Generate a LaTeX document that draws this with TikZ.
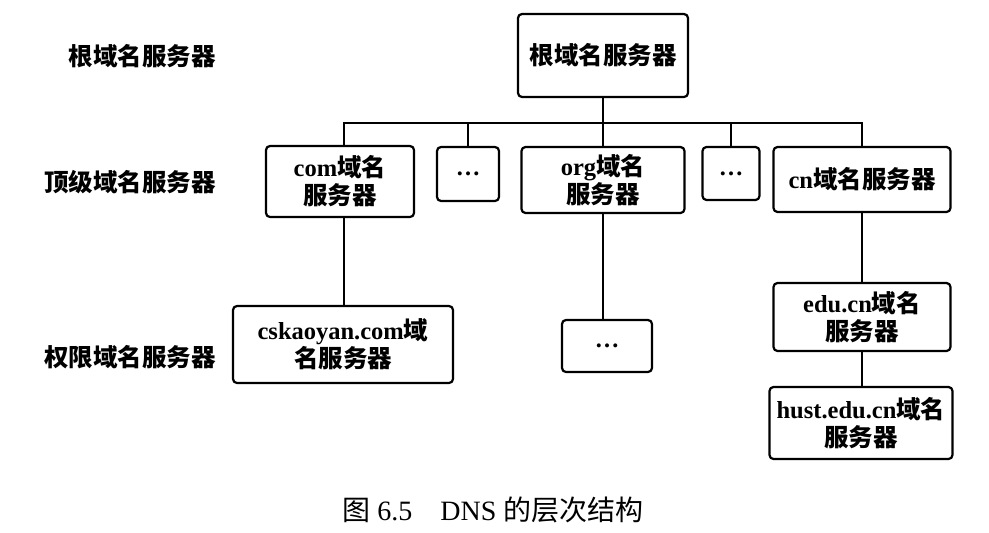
\documentclass[tikz,border=0pt]{standalone}
\usepackage{fontspec}
\setmainfont{Liberation Serif}
\newfontfamily\cjk{Noto Sans CJK SC}
\newcommand\zh[1]{{\cjk #1}}
\begin{document}
\begin{tikzpicture}[x=1pt,y=-1pt,
  srv/.style={draw,line width=2.2pt,rounded corners=4pt,inner sep=0pt,align=center,
    font=\bfseries\fontsize{24.5}{28}\selectfont},
  lvl/.style={anchor=east,inner sep=0pt,font=\bfseries\fontsize{24.5}{28}\selectfont},
  link/.style={line width=1.4pt}]
\useasboundingbox (0,0) rectangle (989,533);
% level labels
\node[lvl] (l1) at (216,56) {\zh{根域名服务器}};
\node[lvl] (l2) at (216,182) {\zh{顶级域名服务器}};
\node[lvl] (l3) at (216,357) {\zh{权限域名服务器}};
% servers
\node[srv,minimum width=170pt,minimum height=83pt] (root) at (603,55.5) {\zh{根域名服务器}};
\node[srv,minimum width=148pt,minimum height=71pt] (com) at (340,181.5) {com\zh{域名}\\\zh{服务器}};
\node[srv,minimum width=62pt,minimum height=54pt] (d1) at (468,174) {…};
\node[srv,minimum width=163pt,minimum height=66pt] (org) at (603,180) {org\zh{域名}\\\zh{服务器}};
\node[srv,minimum width=57pt,minimum height=53pt] (d2) at (731,173.5) {…};
\node[srv,minimum width=177pt,minimum height=65pt] (cn) at (862,179.5) {cn\zh{域名服务器}};
\node[srv,minimum width=220pt,minimum height=77pt] (cska) at (343,344.5) {cskaoyan.com\zh{域}\\\zh{名服务器}};
\node[srv,minimum width=90pt,minimum height=52pt] (d3) at (607,346) {…};
\node[srv,minimum width=177pt,minimum height=68pt] (edu) at (862,317) {edu.cn\zh{域名}\\\zh{服务器}};
\node[srv,minimum width=183pt,minimum height=72pt] (hust) at (861,423) {hust.edu.cn\zh{域名}\\\zh{服务器}};
% connectors
\coordinate (bus) at (603,123);
\draw[link] (root.south) -- (org.north);
\draw[link] ([xshift=4pt]com.north) |- (bus) -| (cn.north);
\draw[link] (d1.north) -- (d1.north|-bus);
\draw[link] (d2.north) -- (d2.north|-bus);
\draw[link] ([xshift=4pt]com.south) -- ([xshift=4pt]com.south|-cska.north);
\draw[link] (org.south) -- (org.south|-d3.north);
\draw[link] (cn.south) -- (edu.north);
\draw[link] (edu.south) -- (edu.south|-hust.north);
% caption
\node[inner sep=0pt,font=\fontsize{28}{32}\selectfont] (cap) at (493,510) {\zh{图} 6.5\quad DNS \zh{的层次结构}};
\end{tikzpicture}
\end{document}
